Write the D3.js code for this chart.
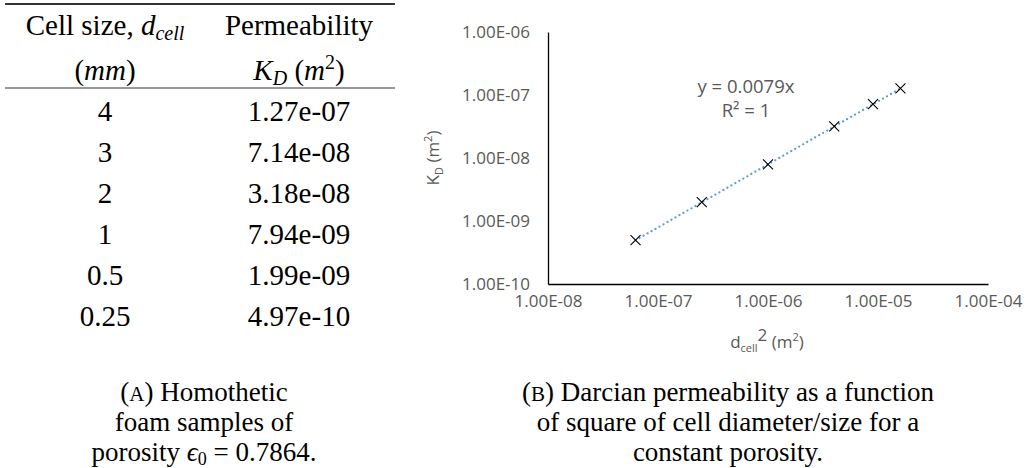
<!DOCTYPE html>
<html>
<head>
<meta charset="utf-8">
<script src="https://cdn.jsdelivr.net/npm/d3@7"></script>
<style>
  body { margin: 0; background: #fff; }
  .tab { font-family: "Liberation Serif", serif; fill: #000; }
  .xl { font-family: "Open Sans", sans-serif; fill: #595959; }
</style>
</head>
<body>
<div id="fig"></div>
<script>
// data
var cellSizes = [4, 3, 2, 1, 0.5, 0.25];            // d_cell (mm)
var cellLabels = ["4", "3", "2", "1", "0.5", "0.25"];
var permeability = [1.27e-7, 7.14e-8, 3.18e-8, 7.94e-9, 1.99e-9, 4.97e-10];  // K_D (m2)
var permLabels = ["1.27e-07", "7.14e-08", "3.18e-08", "7.94e-09", "1.99e-09", "4.97e-10"];
var xTicks = [1e-8, 1e-7, 1e-6, 1e-5, 1e-4];
var xTickLabels = ["1.00E-08", "1.00E-07", "1.00E-06", "1.00E-05", "1.00E-04"];
var yTicks = [1e-10, 1e-9, 1e-8, 1e-7, 1e-6];
var yTickLabels = ["1.00E-10", "1.00E-09", "1.00E-08", "1.00E-07", "1.00E-06"];
var trendSlope = 0.0079;

var svgWidth = 1027;
var svgHeight = 468;

var svg = d3.select("#fig")
  .append("svg")
  .attr("width", svgWidth)
  .attr("height", svgHeight);

// ---------- (A) table ----------
var tabLeft = 5, tabRight = 395;
var col1 = 105, col2 = 299;
var rowY = d3.scalePoint()
  .domain(d3.range(cellSizes.length))
  .range([111, 316]);

svg.append("line")
  .attr("x1", tabLeft).attr("x2", tabRight)
  .attr("y1", 4).attr("y2", 4)
  .attr("stroke", "#333").attr("stroke-width", 1.8);
svg.append("line")
  .attr("x1", tabLeft).attr("x2", tabRight)
  .attr("y1", 88).attr("y2", 88)
  .attr("stroke", "#333").attr("stroke-width", 1.1);

var h1 = svg.append("text").attr("class", "tab")
  .attr("x", col1).attr("y", 35).attr("text-anchor", "middle")
  .style("font-size", "29px");
h1.append("tspan").text("Cell size, ");
h1.append("tspan").style("font-style", "italic").text("d");
h1.append("tspan").style("font-style", "italic").style("font-size", "20px")
  .attr("dy", 5).text("cell");

svg.append("text").attr("class", "tab")
  .attr("x", col2).attr("y", 35).attr("text-anchor", "middle")
  .style("font-size", "29px")
  .text("Permeability");

var h2 = svg.append("text").attr("class", "tab")
  .attr("x", col1).attr("y", 80).attr("text-anchor", "middle")
  .style("font-size", "29px");
h2.append("tspan").text("(");
h2.append("tspan").style("font-style", "italic").text("mm");
h2.append("tspan").text(")");

var h3 = svg.append("text").attr("class", "tab")
  .attr("x", col2).attr("y", 80).attr("text-anchor", "middle")
  .style("font-size", "29px");
h3.append("tspan").style("font-style", "italic").text("K");
h3.append("tspan").style("font-style", "italic").style("font-size", "20px")
  .attr("dy", 5).text("D");
h3.append("tspan").attr("dy", -5).text(" (");
h3.append("tspan").style("font-style", "italic").text("m");
h3.append("tspan").style("font-size", "20px").attr("dy", -11).text("2");
h3.append("tspan").attr("dy", 11).text(")");

svg.selectAll(".c1")
  .data(cellLabels)
  .enter()
  .append("text")
  .attr("class", "tab c1")
  .attr("x", col1)
  .attr("y", (d, i) => rowY(i) + 10)
  .attr("text-anchor", "middle")
  .style("font-size", "29px")
  .text(d => d);

svg.selectAll(".c2")
  .data(permLabels)
  .enter()
  .append("text")
  .attr("class", "tab c2")
  .attr("x", col2)
  .attr("y", (d, i) => rowY(i) + 10)
  .attr("text-anchor", "middle")
  .style("font-size", "29px")
  .text(d => d);

// caption (A)
var capA = svg.append("text").attr("class", "tab")
  .attr("text-anchor", "middle").style("font-size", "27px");
var capA1 = capA.append("tspan").attr("x", 204).attr("y", 401);
capA1.append("tspan").text("(");
capA1.append("tspan").style("font-size", "21px").text("A");
capA1.append("tspan").text(") Homothetic");
capA.append("tspan").attr("x", 204).attr("y", 431).text("foam samples of");
var capA3 = capA.append("tspan").attr("x", 204).attr("y", 461);
capA3.append("tspan").text("porosity ");
capA3.append("tspan").style("font-style", "italic").text("ϵ");
capA3.append("tspan").style("font-size", "18px").attr("dy", 4).text("0");
capA3.append("tspan").attr("dy", -4).text(" = 0.7864.");

// ---------- (B) chart ----------
var margin = { top: 32, right: 39, bottom: 184, left: 548 };
var width = svgWidth - margin.left - margin.right;
var height = svgHeight - margin.top - margin.bottom;

var chartGroup = svg.append("g")
  .attr("transform", `translate(${margin.left}, ${margin.top})`);

var xLogScale = d3.scaleLog()
  .domain([1e-8, 1e-4])
  .range([0, width]);

var yLogScale = d3.scaleLog()
  .domain([1e-10, 1e-6])
  .range([height, 0]);

// axes (lines only, Excel style)
var bottomAxis = d3.axisBottom(xLogScale)
  .tickValues(xTicks)
  .tickSize(0)
  .tickPadding(11)
  .tickFormat((d, i) => xTickLabels[i]);
var leftAxis = d3.axisLeft(yLogScale)
  .tickValues(yTicks)
  .tickSize(0)
  .tickPadding(18)
  .tickFormat((d, i) => yTickLabels[i]);

var gx = chartGroup.append("g")
  .attr("transform", `translate(0, ${height})`)
  .call(bottomAxis);
var gy = chartGroup.append("g")
  .call(leftAxis);

[gx, gy].forEach(function(g) {
  g.select(".domain").attr("stroke", "#000").attr("stroke-width", 1.3);
  g.selectAll("text")
    .attr("fill", "#595959")
    .style("font-family", "'Open Sans', sans-serif")
    .style("font-size", "17px");
});
gx.selectAll("text").attr("dy", "0.71em");

// trendline y = 0.0079x
var points = cellSizes.map(function(d, i) {
  return { x: Math.pow(d * 1e-3, 2), y: permeability[i] };
});
var xExt = d3.extent(points, d => d.x);
var trend = xExt.map(x => ({ x: x, y: trendSlope * x }));

chartGroup.append("path")
  .datum(trend)
  .attr("d", d3.line().x(d => xLogScale(d.x)).y(d => yLogScale(d.y)))
  .attr("fill", "none")
  .attr("stroke", "#5B9BD5")
  .attr("stroke-width", 2.3)
  .attr("stroke-linecap", "round")
  .attr("stroke-dasharray", "0,4.6");

// markers
chartGroup.selectAll(".pt")
  .data(points)
  .enter()
  .append("path")
  .attr("class", "pt")
  .attr("transform", d => `translate(${xLogScale(d.x)}, ${yLogScale(d.y)})`)
  .attr("d", "M-5,-5L5,5M-5,5L5,-5")
  .attr("stroke", "#000")
  .attr("stroke-width", 1.1);

// equation
var eq = chartGroup.append("text").attr("class", "xl")
  .attr("text-anchor", "middle").style("font-size", "18.5px");
eq.append("tspan").attr("x", 198).attr("y", 61).text("y = 0.0079x");
eq.append("tspan").attr("x", 198).attr("y", 85).text("R² = 1");

// axis titles
var yt = chartGroup.append("text").attr("class", "xl")
  .attr("transform", `translate(${433 - margin.left}, ${height / 2}) rotate(-90)`)
  .attr("text-anchor", "middle")
  .attr("dy", "0.35em")
  .style("font-size", "17px");
yt.append("tspan").text("K");
yt.append("tspan").style("font-size", "11px").attr("dy", 4).text("D");
yt.append("tspan").attr("dy", -4).text(" (m");
yt.append("tspan").style("font-size", "11px").attr("dy", -7).text("2");
yt.append("tspan").attr("dy", 7).text(")");

var xt = chartGroup.append("text").attr("class", "xl")
  .attr("x", width / 2 - 1)
  .attr("y", height + 64)
  .attr("text-anchor", "middle")
  .style("font-size", "17px");
xt.append("tspan").text("d");
xt.append("tspan").style("font-size", "11px").attr("dy", 4).text("cell");
xt.append("tspan").attr("dy", -11).text("2");
xt.append("tspan").attr("dy", 7).text(" (m");
xt.append("tspan").style("font-size", "11px").attr("dy", -7).text("2");
xt.append("tspan").attr("dy", 7).text(")");

// caption (B)
var capB = svg.append("text").attr("class", "tab")
  .attr("text-anchor", "middle").style("font-size", "27px");
var capB1 = capB.append("tspan").attr("x", 728).attr("y", 401);
capB1.append("tspan").text("(");
capB1.append("tspan").style("font-size", "21px").text("B");
capB1.append("tspan").text(") Darcian permeability as a function");
capB.append("tspan").attr("x", 728).attr("y", 431).text("of square of cell diameter/size for a");
capB.append("tspan").attr("x", 728).attr("y", 461).text("constant porosity.");
</script>
</body>
</html>
